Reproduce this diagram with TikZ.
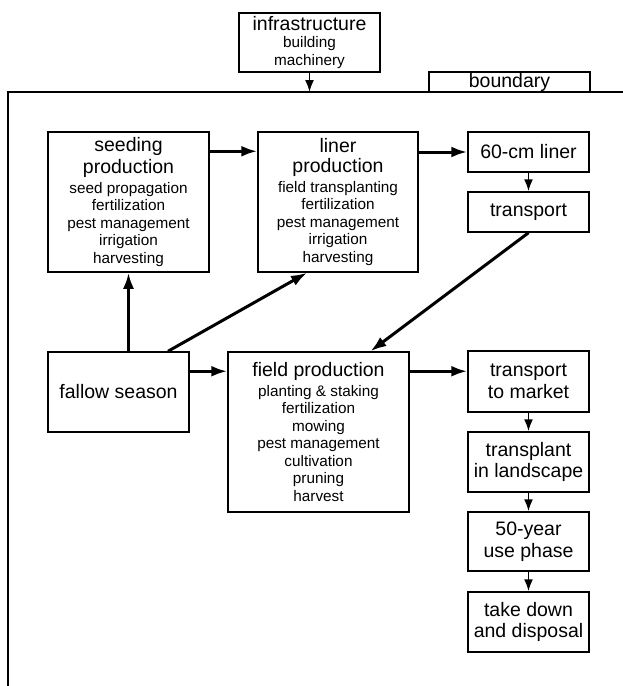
\documentclass[tikz,border=0pt]{standalone}
\usepackage{fontspec}
\setmainfont{Liberation Sans}
\usetikzlibrary{arrows.meta}

\newcommand{\bigtxt}{\fontsize{19.5}{21.5}\selectfont}
\newcommand{\smalltxt}{\fontsize{15.3}{17.5}\selectfont}

\begin{document}
\begin{tikzpicture}[x=1pt,y=-1pt,
  box/.style={draw,line width=1.5pt,align=center,inner sep=0pt,font=\smalltxt},
  stagebox/.style={box,minimum width=121pt,font=\bigtxt},
  flow/.style={line width=3pt,-{Latex[length=16pt,width=11pt]}},
  thinflow/.style={line width=1.7pt,-{Latex[length=12pt,width=9pt]}}]
  \useasboundingbox (0,0) rectangle (623,686);
  % system boundary
  \draw [line width=1.5pt] (623,92) -- (8,92) -- (8,686);
  \node [box,font=\bigtxt,minimum width=161pt,minimum height=20pt] (bdlabel) at (509.5,82) {boundary};
  \coordinate (bdtop) at (309.5,92);
  \node [box,minimum width=141pt,minimum height=59pt] (infra) at (309.5,42.5)
    {{\bigtxt infrastructure}\\building\\machinery};
  % production stages
  \node [box,minimum width=161pt,minimum height=140pt] (seed) at (128.5,202)
    {{\bigtxt seeding}\\[3pt]{\bigtxt production}\\[2pt]seed propagation\\fertilization\\pest management\\irrigation\\harvesting};
  \node [box,minimum width=160pt,minimum height=140pt] (liner) at (338,202)
    {{\bigtxt liner}\\[3pt]{\bigtxt production}\\[2pt]field transplanting\\fertilization\\pest management\\irrigation\\harvesting};
  \node [box,font=\bigtxt,minimum width=141pt,minimum height=80pt] (fallow) at (118.5,392) {fallow season};
  \node [box,minimum width=181pt,minimum height=160pt] (field) at (318.5,432)
    {{\bigtxt field production}\\[2pt]planting \& staking\\fertilization\\mowing\\pest management\\cultivation\\pruning\\harvest};
  % right column
  \node [stagebox,minimum height=40pt] (liner60) at (528.5,152) {60-cm liner};
  \node [stagebox,minimum height=40pt] (transport) at (528.5,212) {transport};
  \node [stagebox,minimum height=61pt] (market) at (528.5,381.5) {transport\\to market};
  \node [stagebox,minimum height=60pt] (landscape) at (528.5,462) {transplant\\in landscape};
  \node [stagebox,minimum height=59pt] (usephase) at (528.5,541.5) {50-year\\use phase};
  \node [stagebox,minimum height=60pt] (disposal) at (528.5,622) {take down\\and disposal};
  % flows
  \draw [thinflow] (infra.south) -- (bdtop);
  \draw [flow] ([yshift=-20pt]seed.north east) -- ([yshift=-20pt]liner.north west);
  \draw [flow] (liner.east |- liner60.west) -- (liner60.west);
  \draw [thinflow] (liner60.south) -- (transport.north);
  \draw [flow] (transport.south) -- ([xshift=52pt]field.north);
  \draw [flow] (seed.south |- fallow.north) -- (seed.south);
  \draw [flow] ([xshift=49.5pt]fallow.north) -- ([xshift=-31pt]liner.south);
  \draw [flow] ([yshift=-20pt]fallow.north east) -- ([yshift=-20pt]field.north west);
  \draw [flow] ([yshift=-20pt]field.north east) -- ([yshift=-21pt]market.north west);
  \draw [thinflow] (market.south) -- (landscape.north);
  \draw [thinflow] (landscape.south) -- (usephase.north);
  \draw [thinflow] (usephase.south) -- (disposal.north);
\end{tikzpicture}
\end{document}
